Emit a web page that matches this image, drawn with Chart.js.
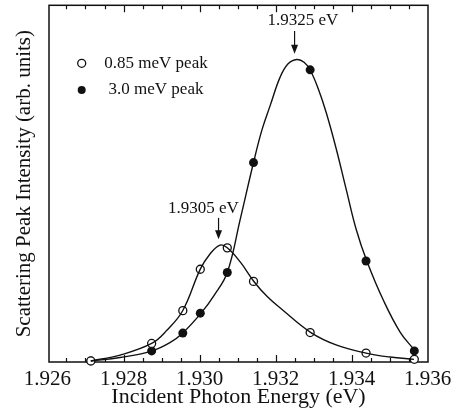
<!DOCTYPE html>
<html><head><meta charset="utf-8">
<script src="https://cdn.jsdelivr.net/npm/chart.js@4/dist/chart.umd.min.js"></script>
<style>html,body{margin:0;padding:0;background:#fff;}#wrap{width:457px;height:414px;}</style>
</head><body><div id="wrap"><canvas id="c" width="457" height="414"></canvas></div>
<script>
// Measured data points (incident photon energy in eV, intensity in arb. units)
const energy   = [1.92714, 1.92874, 1.92956, 1.93002, 1.93073, 1.93142, 1.93291, 1.93438, 1.93565];
const peak085  = [0.3, 5.2, 14.4, 26.0, 32.0, 22.6, 8.25, 2.5, 0.75];
const peak30   = [0.3, 3.1, 8.1, 13.7, 25.1, 55.9, 81.9, 28.3, 3.1];
// Fitted curves
const fit085Energy = [1.92714, 1.92791, 1.92874, 1.92914, 1.92956, 1.93002, 1.93028, 1.93054, 1.93073, 1.93107, 1.93143, 1.93178, 1.93217, 1.93293, 1.93361, 1.93438, 1.93501, 1.93564];
const fit085       = [0.28, 1.94, 5.19, 8.89, 14.44, 26.03, 30.36, 32.78, 32.03, 28.06, 22.58, 18.33, 14.72, 8.25, 4.72, 2.5, 1.39, 0.75];
const fit30Energy  = [1.92714, 1.92791, 1.92874, 1.92922, 1.92956, 1.93004, 1.93038, 1.93073, 1.93107, 1.93142, 1.93164, 1.93186, 1.93212, 1.93233, 1.93256, 1.93275, 1.93291, 1.93312, 1.93333, 1.93359, 1.93386, 1.93412, 1.93440, 1.93484, 1.93528, 1.93567];
const fit30        = [0.28, 1.25, 3.06, 5.42, 8.14, 13.69, 18.61, 25.08, 40.0, 55.92, 65.0, 71.94, 79.86, 83.61, 84.81, 84.03, 81.86, 76.67, 70.0, 60.0, 48.33, 37.22, 28.33, 17.22, 8.33, 3.14];
// Axis tick labels
const xTickLabels = ['1.926', '1.928', '1.930', '1.932', '1.934', '1.936'];
// Peak annotations
const markEnergy  = [1.9325, 1.9305];
const markLabels  = ['1.9325 eV', '1.9305 eV'];
const markLabelX  = [1.93272, 1.93010];
const markLabelY  = [95.6, 43.1];
const markTail    = [92.8, 40.4];
const markTip     = [86.4, 34.4];
const seriesNames = ['0.85 meV peak', '3.0 meV peak'];

const SERIF = '"Liberation Serif", "Times New Roman", serif';
const INK = '#111';
const pts = (xs, ys) => xs.map((x, i) => ({x, y: ys[i]}));

const decor = {
  id: 'decor',
  beforeDatasetsDraw(chart) {
    const {ctx, chartArea: a, scales: {x}} = chart;
    ctx.save();
    ctx.strokeStyle = INK;
    ctx.lineWidth = 1.5;
    ctx.strokeRect(a.left, a.top, a.right - a.left, a.bottom - a.top);
    ctx.lineWidth = 1.2;
    x.ticks.forEach((t, i) => {
      const raw = x.getPixelForValue(t.value);
      if (raw < a.left + 2 || raw > a.right - 2) return;
      const px = Math.round(raw) + 0.5;
      const len = (i % 4 === 0) ? 7 : 4;
      ctx.beginPath();
      ctx.moveTo(px, a.bottom); ctx.lineTo(px, a.bottom - len);
      ctx.moveTo(px, a.top); ctx.lineTo(px, a.top + len);
      ctx.stroke();
    });
    ctx.restore();
  },
  afterDatasetsDraw(chart) {
    const {ctx, chartArea: a, scales: {x, y}} = chart;
    ctx.save();
    ctx.fillStyle = INK; ctx.strokeStyle = INK;
    ctx.font = '17px ' + SERIF;
    ctx.textAlign = 'center'; ctx.textBaseline = 'middle';
    markEnergy.forEach((e, i) => {
      ctx.fillText(markLabels[i], x.getPixelForValue(markLabelX[i]), y.getPixelForValue(markLabelY[i]));
      const px = x.getPixelForValue(e);
      const yt = y.getPixelForValue(markTail[i]);
      const yh = y.getPixelForValue(markTip[i]);
      ctx.lineWidth = 1.2;
      ctx.beginPath(); ctx.moveTo(px, yt); ctx.lineTo(px, yh - 6); ctx.stroke();
      ctx.beginPath(); ctx.moveTo(px - 3.5, yh - 9); ctx.lineTo(px + 3.5, yh - 9); ctx.lineTo(px, yh); ctx.closePath(); ctx.fill();
    });
    // legend
    const lx = a.left + 32.7, ty = [a.top + 58, a.top + 84.7], tx = a.left + 107;
    seriesNames.forEach((n, i) => {
      ctx.beginPath(); ctx.arc(lx, ty[i], 4, 0, Math.PI * 2);
      if (i === 0) { ctx.fillStyle = '#fff'; ctx.fill(); ctx.lineWidth = 1.3; ctx.stroke(); }
      else { ctx.fillStyle = INK; ctx.fill(); }
      ctx.fillStyle = INK;
      ctx.fillText(n, tx, ty[i]);
    });
    ctx.restore();
  }
};

new Chart(document.getElementById('c'), {
  type: 'line',
  data: {
    datasets: [
      {data: pts(fit085Energy, fit085), borderColor: INK, borderWidth: 1.4, pointRadius: 0, tension: 0.4, fill: false},
      {data: pts(fit30Energy, fit30), borderColor: INK, borderWidth: 1.4, pointRadius: 0, tension: 0.4, fill: false},
      {label: seriesNames[0], data: pts(energy, peak085), showLine: false, pointRadius: 4, pointBackgroundColor: '#fff', pointBorderColor: INK, pointBorderWidth: 1.3, clip: false},
      {label: seriesNames[1], data: pts(energy, peak30), showLine: false, pointRadius: 4.5, pointBackgroundColor: INK, pointBorderColor: INK, pointBorderWidth: 0, clip: false}
    ]
  },
  options: {
    responsive: false, animation: false, devicePixelRatio: 1,
    layout: {padding: {top: 2, right: 29, left: 0, bottom: 0}},
    plugins: {legend: {display: false}, tooltip: {enabled: false}},
    scales: {
      x: {
        type: 'linear', min: 1.92604, max: 1.93601,
        grid: {display: false, drawTicks: false}, border: {display: false},
        afterBuildTicks: s => { s.ticks = []; for (let i = 0; i <= 20; i++) s.ticks.push({value: 1.926 + i * 0.0005}); },
        ticks: {autoSkip: false, maxRotation: 0, padding: 5, color: INK, font: {family: SERIF, size: 21},
          callback: (v, i) => (i % 4 === 0 ? xTickLabels[i / 4] : '')},
        title: {display: true, text: 'Incident Photon Energy (eV)', color: INK, font: {family: SERIF, size: 22}, padding: {top: 0, bottom: 4}},
        afterFit: s => { s.height = 52; }
      },
      y: {
        min: 0, max: 100,
        grid: {display: false, drawTicks: false}, border: {display: false},
        ticks: {display: false},
        title: {display: true, text: 'Scattering Peak Intensity (arb. units)', color: INK, font: {family: SERIF, size: 21}, padding: {top: 12, bottom: 0}},
        afterFit: s => { s.width = 49; }
      }
    }
  },
  plugins: [decor]
});
</script></body></html>
